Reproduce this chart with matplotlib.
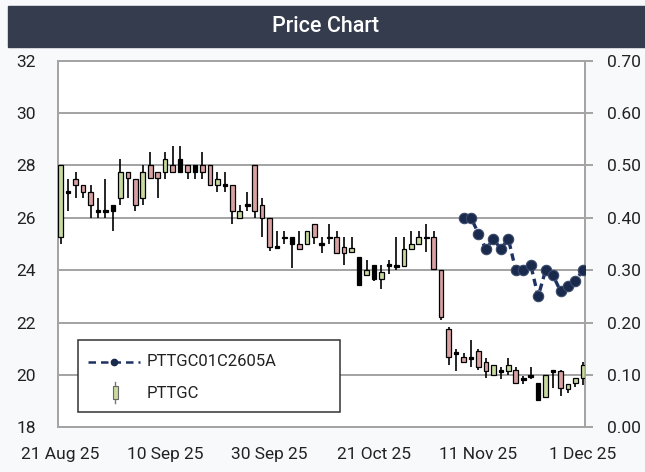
import matplotlib.pyplot as plt
import numpy as np
import pandas as pd
from matplotlib.patches import Rectangle
from matplotlib.lines import Line2D

plt.rcParams['font.family'] = ['Roboto', 'DejaVu Sans']

# trading days (SET calendar, two holidays in October)
dates = pd.bdate_range('2025-08-21', '2025-12-01', freq='C',
                       holidays=['2025-10-13', '2025-10-23'])

# PTTGC daily OHLC
opens = [25.25, 27.0, 27.5, 27.25, 27.0, 26.25, 26.25, 26.5, 26.75, 27.75,
         27.5, 26.75, 28.0, 27.75, 27.75, 28.0, 28.25, 28.0, 28.0, 28.0,
         28.0, 27.25, 27.25, 27.25, 26.0, 26.5, 28.0, 26.5, 26.0, 24.9,
         25.25, 25.25, 25.0, 25.0, 25.75, 25.0, 25.25, 25.25, 24.9, 24.7,
         24.5, 23.8, 24.2, 23.65, 24.2, 24.15, 24.15, 24.8, 25.0, 25.25,
         25.25, 24.0, 21.75, 20.85, 20.7, 20.65, 20.9, 20.5, 20.0, 20.15,
         20.15, 20.2, 19.85, 19.95, 19.7, 19.15, 20.15, 20.15, 19.45, 19.7,
         19.9]
highs = [28.0, 27.5, 27.75, 27.25, 27.25, 26.75, 27.5, 26.5, 28.25, 27.75,
         27.5, 28.0, 28.5, 27.75, 28.5, 28.75, 28.75, 28.0, 28.0, 28.5,
         28.0, 27.75, 27.75, 27.25, 26.5, 27.0, 28.0, 26.75, 26.0, 25.5,
         25.5, 25.25, 25.5, 25.5, 25.75, 25.25, 25.75, 25.5, 25.25, 25.25,
         24.5, 24.4, 24.2, 24.2, 24.4, 25.25, 25.25, 25.5, 25.5, 25.75,
         25.5, 24.0, 21.85, 21.0, 20.85, 21.35, 21.0, 20.65, 20.4, 20.3,
         20.65, 20.3, 19.95, 20.3, 19.7, 20.0, 20.2, 20.2, 19.65, 19.9,
         20.5]
lows = [25.0, 26.25, 26.75, 26.75, 26.0, 26.0, 26.0, 25.5, 26.5, 26.75,
        26.25, 26.5, 27.5, 26.75, 27.5, 27.75, 27.75, 27.5, 27.5, 27.5,
        27.25, 27.0, 27.0, 25.75, 26.0, 26.25, 26.0, 25.25, 24.75, 24.9,
        25.0, 24.1, 24.8, 25.0, 25.0, 24.65, 25.0, 24.65, 24.2, 24.7,
        23.4, 23.8, 23.6, 23.3, 23.85, 24.0, 24.15, 24.8, 25.0, 24.7,
        24.0, 22.1, 20.4, 20.15, 20.5, 20.3, 20.2, 19.9, 20.0, 19.85,
        20.0, 19.7, 19.65, 19.85, 19.0, 19.15, 19.5, 19.2, 19.3, 19.55,
        19.6]
closes = [28.0, 27.0, 27.25, 27.0, 26.5, 26.25, 26.25, 26.25, 27.75, 27.5,
          26.5, 27.75, 27.5, 27.5, 28.25, 27.75, 27.75, 27.75, 27.75, 27.75,
          27.25, 27.5, 27.25, 26.25, 26.25, 26.5, 26.25, 26.0, 24.9, 24.9,
          25.25, 25.0, 24.8, 25.5, 25.25, 25.0, 25.25, 24.65, 24.65, 24.85,
          23.45, 24.0, 23.65, 23.95, 24.2, 24.15, 24.8, 25.0, 25.25, 25.25,
          24.05, 22.2, 20.7, 20.85, 20.5, 20.65, 20.3, 20.15, 20.4, 20.15,
          20.4, 19.7, 19.85, 19.95, 19.05, 20.0, 20.15, 19.5, 19.65, 19.9,
          20.4]
dark_days = ['2025-09-01', '2025-09-12', '2025-09-16', '2025-10-03',
             '2025-10-17', '2025-10-21', '2025-11-21']

# PTTGC01C2605A (right axis)
warrant_start = '2025-11-07'
warrant = [0.40, 0.40, 0.37, 0.34, 0.36, 0.34, 0.36, 0.30, 0.30, 0.31,
           0.25, 0.30, 0.29, 0.26, 0.27, 0.28, 0.30]

tick_dates = ['2025-08-21', '2025-09-10', '2025-09-30', '2025-10-21',
              '2025-11-11', '2025-12-01']
tick_labels = ['21 Aug 25', '10 Sep 25', '30 Sep 25', '21 Oct 25',
               '11 Nov 25', '1 Dec 25']

GREEN = '#c8da9e'
PINK = '#d9a1a1'
GRID = '#a3a3a3'
NAVY = '#1d3263'

fig = plt.figure(figsize=(6.45, 4.72), dpi=100, facecolor='#f8f9fa')
ax = fig.add_axes([58/645, 1-427.4/472, 527/645, 366.8/472])
ax.set_facecolor('white')

# title bar
fig.patches.append(Rectangle((8/645, 1-47/472), 1, 41/472,
                             transform=fig.transFigure, color='#343c4e', zorder=0))
fig.text(326/645, 1-26/472, 'Price Chart', color='white', fontsize=15.5,
         fontweight='medium', ha='center', va='center')

x = np.arange(len(dates))
o = np.array(opens)
c = np.array(closes)
dark = dates.isin(pd.to_datetime(dark_days))

cols = []
for i in range(len(x)):
    if dark[i] or abs(c[i] - o[i]) < 0.01:
        cols.append('black')
    elif c[i] > o[i]:
        cols.append(GREEN)
    else:
        cols.append(PINK)

ax.vlines(x, lows, highs, color='black', lw=1.2, zorder=3)
body = np.maximum(np.abs(c - o), 0.07)
ax.bar(x, body, bottom=np.minimum(o, c) - np.where(np.abs(c - o) < 0.01, 0.035, 0),
       width=0.62, color=cols, edgecolor='black', linewidth=0.9, zorder=4)

ax.set_xlim(-0.36, 70.28)
ax.set_ylim(18, 32)
ax.set_yticks(range(18, 33, 2))
ax.grid(axis='y', color=GRID, lw=1.4)
ax.set_axisbelow(True)
tpos = [dates.get_loc(pd.Timestamp(d)) for d in tick_dates]
ax.set_xticks(tpos)
ax.set_xticklabels(tick_labels)
ax.tick_params(axis='x', length=0, pad=14, labelsize=12.5, labelcolor='#222222')
ax.tick_params(axis='y', length=0, pad=16, labelsize=12.5, labelcolor='#222222')
for s in ax.spines.values():
    s.set_color(GRID)
    s.set_linewidth(1.4)

ax2 = ax.twinx()
ax2.set_ylim(0, 0.70)
ax2.set_yticks(np.arange(0, 0.71, 0.1))
ax2.set_yticklabels(['%.2f' % v for v in np.arange(0, 0.71, 0.1)])
ax2.tick_params(axis='y', length=6, width=1.4, color=GRID, pad=10,
                labelsize=12.5, labelcolor='#222222')
for s in ax2.spines.values():
    s.set_visible(False)
wx = dates.get_loc(pd.Timestamp(warrant_start)) + np.arange(len(warrant))
ax2.plot(wx, warrant, color=NAVY, lw=2.4, ls=(0, (2.2, 1.4)),
         marker='o', ms=7.5, mfc='#1a2a4c', mec='#3a4a6c', mew=0.8, zorder=5)

# legend
ax.add_patch(Rectangle((20/527, 15.7/366.8), 262/527, 71.7/366.8, transform=ax.transAxes,
                       facecolor='white', edgecolor='#333333', lw=1.1, zorder=10))
ax.add_line(Line2D([30/527, 82/527], [65.7/366.8, 65.7/366.8], transform=ax.transAxes,
                   color=NAVY, lw=1.8, ls=(0, (3, 2)), zorder=11))
ax.add_line(Line2D([56/527], [65.7/366.8], transform=ax.transAxes, marker='o',
                   ms=4.5, color='#1a2a4c', zorder=12))
ax.text(89/527, 65.7/366.8, 'PTTGC01C2605A', transform=ax.transAxes,
        fontsize=12, va='center', color='#222222', zorder=12)
ax.add_line(Line2D([57/527, 57/527], [24/366.8, 45/366.8], transform=ax.transAxes,
                   color='#777777', lw=1, zorder=11))
ax.add_patch(Rectangle((54.5/527, 28/366.8), 5/527, 13/366.8, transform=ax.transAxes,
                       facecolor=GREEN, edgecolor='#666666', lw=0.8, zorder=12))
ax.text(89/527, 34.4/366.8, 'PTTGC', transform=ax.transAxes,
        fontsize=12, va='center', color='#222222', zorder=12)

fig.savefig('out.png', dpi=100, facecolor=fig.get_facecolor())
